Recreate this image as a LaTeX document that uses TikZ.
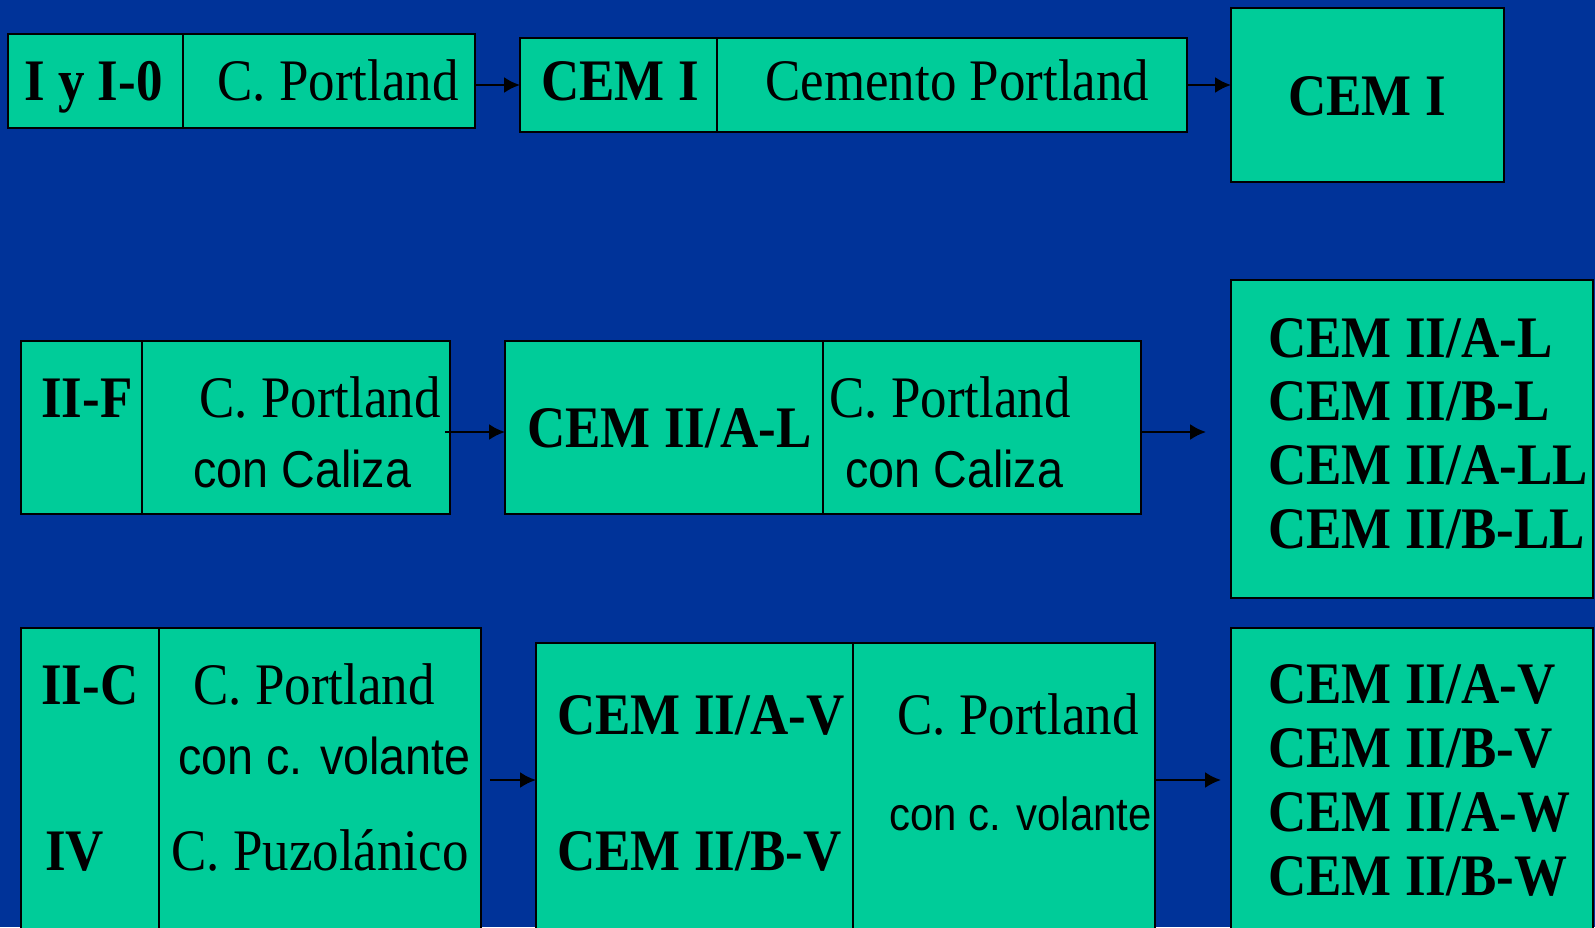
\documentclass[tikz,border=0pt]{standalone}
\usepackage{fontspec}
\setmainfont{Liberation Serif}[FakeStretch=0.9]
\setsansfont{Liberation Sans}[FakeStretch=0.9]
\usepackage{tikz}
\usetikzlibrary{arrows.meta}
\definecolor{bgblue}{RGB}{0,51,153}
\definecolor{boxgreen}{RGB}{0,204,153}
\tikzset{
  cell/.style = {rectangle, draw=black, fill=boxgreen, line width=1.4pt,
    inner sep=0pt, outer sep=0pt, anchor=north west},
  txt/.style = {inner sep=0pt, anchor=base west,
    font=\fontsize{33.5}{36}\selectfont},
  btxt/.style = {txt, font=\fontsize{33.5}{36}\selectfont\bfseries},
  stxt/.style = {txt, font=\fontsize{29.5}{33}\selectfont\sffamily},
  sstxt/.style = {txt, font=\fontsize{26.5}{30}\selectfont\sffamily},
  arr/.style = {-{Latex[length=9pt,width=9pt]}, line width=1.3pt}
}
% cell from top left (x1,y1) to bottom right (x2,y2), in pixels
\newcommand{\boxcell}[5]{\node[cell, minimum width={(#4-#2)*0.02cm},
  minimum height={(#5-#3)*0.02cm}] (#1) at (#2,#3) {};}

\begin{document}
\begin{tikzpicture}[x=0.02cm, y=-0.02cm]
  \fill[bgblue] (0,0) rectangle (1595,927);
  \useasboundingbox (0,0) rectangle (1595,927);
  \clip (0,0) rectangle (1595,927);

  % row 1
  \boxcell{a1}{8}{34}{183}{128}
  \boxcell{a2}{183}{34}{475}{128}
  \boxcell{b1}{520}{38}{717}{132}
  \boxcell{b2}{717}{38}{1187}{132}
  \boxcell{c1}{1231}{8}{1504}{182}
  \node[btxt] (ta1) at (24,100) {I y I-0};
  \node[txt] (ta2) at (217,100) {C. Portland};
  \node[btxt] (tb1) at (541,100) {CEM I};
  \node[txt] (tb2) at (765,100) {Cemento Portland};
  \node[btxt, anchor=base] (tc1) at (1367,115) {CEM I};
  \draw[arr] (a2.east |- b1.west) -- (b1.west);
  \draw[arr] (b2.east) -- (b2.east -| c1.west);

  % row 2
  \boxcell{d1}{21}{341}{142}{514}
  \boxcell{d2}{142}{341}{450}{514}
  \boxcell{e1}{505}{341}{823}{514}
  \boxcell{e2}{823}{341}{1141}{514}
  \boxcell{f1}{1231}{280}{1593}{598}
  \node[btxt] (td1) at (41,417) {II-F};
  \node[txt] (td2) at (199,417) {C. Portland};
  \node[stxt] (td3) at (193,487) {con Caliza};
  \node[btxt] (te1) at (527,447) {CEM II/A-L};
  \node[txt] (te2) at (829,417) {C. Portland};
  \node[stxt] (te3) at (845,487) {con Caliza};
  \foreach \name [count=\i] in {CEM II/A-L, CEM II/B-L, CEM II/A-LL, CEM II/B-LL}
    \node[btxt] (tf\i) at (1268,{357+63.7*(\i-1)}) {\name};
  \coordinate (de) at (445,432);
  \coordinate (ef) at (1206,432);
  \draw[arr] (de) -- (de -| e1.west);
  \draw[arr] (e2.east |- ef) -- (ef);

  % row 3
  \boxcell{g1}{21}{628}{159}{960}
  \boxcell{g2}{159}{628}{481}{960}
  \boxcell{h1}{536}{643}{853}{960}
  \boxcell{h2}{853}{643}{1155}{960}
  \boxcell{i1}{1231}{628}{1593}{960}
  \node[btxt] (tg1) at (41,704) {II-C};
  \node[txt] (tg2) at (193,704) {C. Portland};
  \node[stxt] (tg3) at (178,774) {con c. volante};
  \node[btxt] (tg4) at (45,870) {IV};
  \node[txt] (tg5) at (171,870) {C. Puzolánico};
  \node[btxt] (th1) at (557,734) {CEM II/A-V};
  \node[btxt] (th2) at (557,870) {CEM II/B-V};
  \node[txt] (th3) at (897,734) {C. Portland};
  \node[sstxt] (th4) at (889,830) {con c. volante};
  \foreach \name [count=\i] in {CEM II/A-V, CEM II/B-V, CEM II/A-W, CEM II/B-W}
    \node[btxt] (ti\i) at (1268,{703+64*(\i-1)}) {\name};
  \coordinate (gh) at (490,780);
  \coordinate (hi) at (1221,780);
  \draw[arr] (gh) -- (gh -| h1.west);
  \draw[arr] (h2.east |- hi) -- (hi);
\end{tikzpicture}
\end{document}
